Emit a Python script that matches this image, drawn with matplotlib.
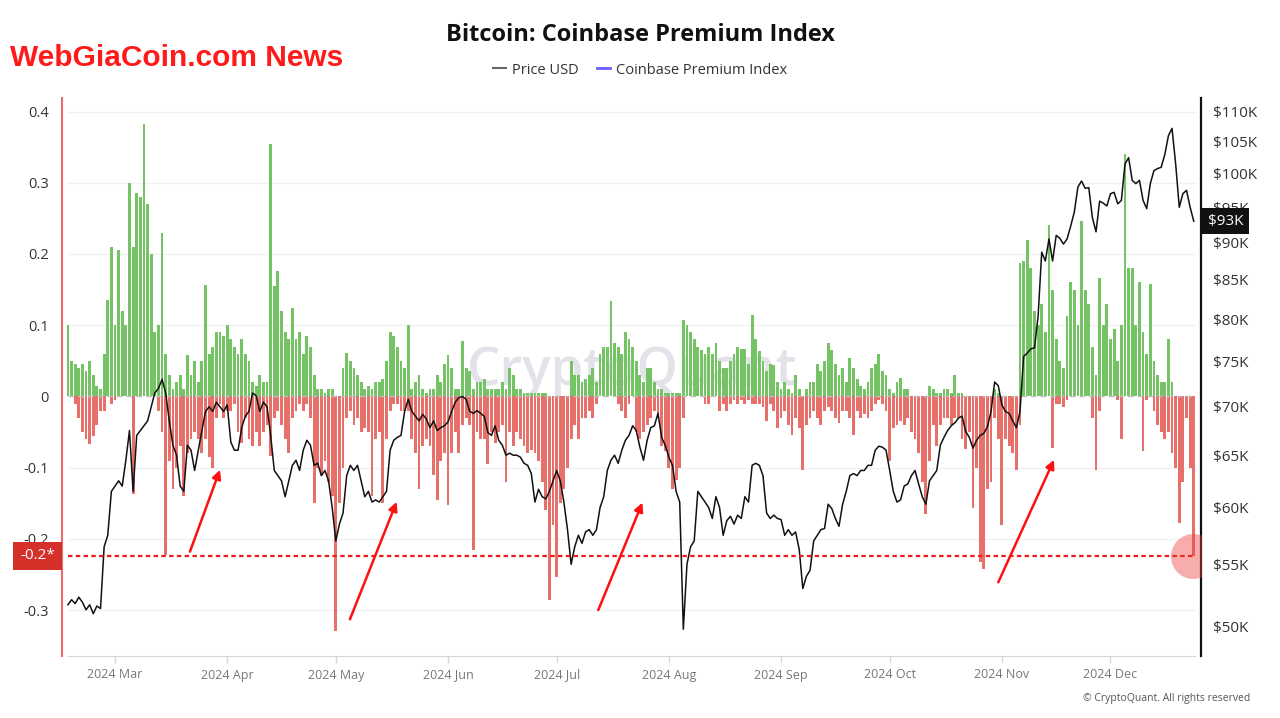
import numpy as np
import pandas as pd
import matplotlib
matplotlib.use('Agg')
import matplotlib.pyplot as plt
import matplotlib.dates as mdates
from matplotlib.lines import Line2D
from matplotlib.ticker import NullLocator

plt.rcParams['font.family'] = ['Open Sans', 'DejaVu Sans']

# ---------------- data (daily) ----------------
start_date = '2024-02-17'

price_usd_k = [
    51.7, 52.1, 51.8, 52.3, 51.9, 51.3, 51.7, 51.0, 51.6, 51.4,
    56.5, 57.5, 61.5, 62.0, 62.5, 62.0, 64.5, 67.5, 61.5, 67.0,
    67.5, 68.0, 68.5, 70.0, 71.5, 72.0, 73.0, 71.5, 68.5, 66.0,
    65.0, 62.0, 61.5, 66.0, 65.5, 63.5, 65.5, 67.5, 69.5, 70.0,
    69.5, 70.5, 70.0, 69.5, 70.2, 66.3, 65.5, 65.5, 67.8, 69.0,
    69.5, 71.5, 71.2, 69.5, 70.5, 70.0, 67.0, 63.5, 63.0, 62.5,
    61.0, 62.5, 64.0, 64.5, 63.5, 65.5, 66.5, 66.0, 64.0, 64.2,
    63.0, 63.5, 62.5, 60.0, 57.0, 58.5, 59.5, 63.0, 64.0, 63.5,
    64.0, 62.5, 61.0, 61.5, 60.5, 60.7, 60.5, 61.0, 61.5, 65.5,
    66.5, 66.8, 67.0, 69.5, 70.8, 69.5, 69.0, 68.5, 69.2, 68.7,
    67.8, 68.5, 67.5, 67.8, 68.0, 68.4, 69.5, 70.5, 71.0, 71.1,
    70.8, 69.5, 69.3, 69.6, 69.3, 69.0, 67.3, 67.0, 68.0, 66.5,
    66.0, 65.0, 65.2, 65.0, 65.0, 64.8, 64.2, 64.0, 63.2, 60.5,
    61.7, 61.0, 60.8, 61.5, 62.5, 63.5, 62.5, 60.5, 58.0, 55.0,
    56.5, 57.5, 56.8, 57.8, 58.0, 57.5, 58.0, 60.0, 61.0, 63.5,
    64.5, 65.0, 64.2, 65.5, 66.5, 67.0, 68.0, 67.5, 65.8, 64.5,
    66.5, 67.8, 68.0, 69.3, 66.8, 66.0, 64.8, 64.0, 61.5, 60.5,
    49.8, 55.0, 56.5, 57.0, 61.5, 61.0, 60.5, 60.0, 59.0, 61.0,
    60.0, 57.5, 58.8, 59.2, 58.5, 59.3, 59.0, 61.0, 60.5, 64.0,
    64.2, 64.0, 63.0, 59.5, 59.0, 59.3, 59.0, 58.9, 57.5, 58.0,
    57.5, 57.8, 56.3, 53.0, 54.0, 54.5, 57.0, 57.5, 58.0, 58.1,
    60.3, 59.9, 59.0, 58.3, 60.3, 61.5, 63.0, 63.2, 63.0, 63.5,
    63.5, 64.0, 64.0, 65.5, 65.9, 65.8, 65.5, 63.5, 61.5, 60.5,
    60.7, 62.0, 62.2, 63.0, 63.5, 62.2, 61.0, 60.3, 62.5, 63.0,
    63.5, 66.0, 66.8, 67.5, 68.0, 68.3, 68.8, 69.0, 67.4, 66.8,
    65.7, 66.5, 67.0, 67.2, 67.9, 69.5, 72.7, 72.3, 70.2, 69.5,
    69.3, 68.5, 67.8, 69.5, 75.6, 76.0, 76.5, 76.6, 80.4, 88.7,
    87.5, 90.5, 87.5, 91.0, 90.6, 89.8, 90.5, 92.3, 94.3, 98.0,
    98.9, 97.8, 97.9, 93.5, 91.5, 95.9, 95.6, 95.2, 97.0, 97.2,
    95.5, 96.0, 101.5, 102.5, 99.0, 98.5, 99.0, 96.0, 94.8, 98.5,
    100.5, 100.8, 101.0, 103.0, 106.0, 107.2, 101.5, 95.0, 97.0, 97.5,
    95.0, 93.0,
]

# daily maximum of the Coinbase Premium Index
premium_high = [
    .10, .05, .045, .04, .045, .035, .05, .03, .015, .01,
    .06, .135, .21, .10, .205, .12, .10, .30, .21, .285,
    .28, .383, .27, .20, .09, .10, .23, .06, .03, .01,
    .02, .03, .01, .058, .03, .05, .02, .05, .157, .06,
    .07, .09, .09, .085, .10, .08, .07, .06, .08, .06,
    .05, .02, .015, .03, .02, .02, .354, .155, .176, .12,
    .09, .08, .124, .08, .09, .06, .085, .07, .03, .01,
    .01, .005, .01, .01, 0, 0, .04, .061, .05, .04,
    .03, .02, .01, .015, .01, .02, .02, .025, .05, .09,
    .085, .07, .05, .04, .10, .01, .02, .03, .01, .005,
    .01, .01, .03, .02, .045, .058, .04, .01, .01, .078,
    .04, .035, .01, .02, .02, .025, .01, .01, .01, .01,
    .02, .01, .04, .03, .01, .01, .005, .005, .005, .005,
    .005, .005, .005, 0, 0, 0, 0, 0, 0, .05,
    .03, .03, .02, .025, .03, .04, .02, .06, .07, .07,
    .134, .075, .07, .06, .09, .08, .07, .05, .03, .02,
    .04, .04, .02, .01, .01, .005, .005, .005, .005, .005,
    .107, .10, .09, .08, .07, .065, .06, .07, .06, .075,
    .05, .04, .04, .05, .06, .07, .066, .066, .045, .115,
    .08, .064, .05, .035, .045, .044, .02, .01, .02, .01,
    .005, .03, .01, 0, .01, .02, .02, .045, .035, .05,
    .075, .065, .045, .03, .04, .02, .054, .04, .025, .015,
    .01, .02, .04, .045, .059, .035, .03, .01, .005, .02,
    .026, .01, .01, 0, 0, 0, 0, 0, .015, .01,
    .005, .005, .01, .01, .005, .03, .005, .005, 0, 0,
    0, 0, 0, 0, 0, 0, .01, .005, 0, 0,
    0, 0, 0, .188, .19, .22, .18, .12, .10, .13,
    .09, .24, .15, .08, .05, .04, .113, .16, .15, .10,
    .246, .15, .13, .07, .03, .166, .10, .13, .08, .094,
    .05, .10, .34, .18, .18, .10, .16, .09, .06, .158,
    .05, .03, .02, .02, .081, .02, 0, 0, 0, 0,
    0, 0,
]

# daily minimum of the Coinbase Premium Index
premium_low = [
    0, 0, -.01, -.03, -.05, -.06, -.067, -.055, -.04, -.02,
    -.02, 0, -.01, -.005, 0, 0, 0, 0, -.137, 0,
    0, 0, 0, 0, 0, -.02, -.05, -.222, -.09, -.13,
    -.10, -.07, -.14, -.08, -.06, -.05, -.06, -.08, -.06, -.085,
    -.10, -.03, -.01, -.03, -.02, -.02, -.01, -.05, -.065, -.03,
    -.06, -.07, -.05, -.07, -.05, -.04, -.084, -.03, -.02, -.04,
    -.06, -.08, -.03, -.02, -.01, -.02, -.01, -.03, -.15, -.10,
    -.11, -.09, -.12, -.14, -.33, -.15, -.10, -.03, -.02, -.04,
    -.03, -.05, -.045, -.05, -.14, -.06, -.05, -.15, -.06, -.02,
    -.01, -.01, -.02, -.02, -.02, -.06, -.08, -.13, -.07, -.06,
    -.07, -.11, -.145, -.09, -.08, -.152, -.08, -.05, -.08, -.04,
    -.03, -.04, -.215, -.05, -.06, -.06, -.095, -.05, -.065, -.05,
    -.04, -.12, -.05, -.07, -.05, -.06, -.07, -.08, -.075, -.08,
    -.09, -.12, -.16, -.286, -.18, -.254, -.15, -.13, -.10, -.06,
    -.04, -.06, -.03, -.03, -.02, -.03, -.01, 0, 0, 0,
    0, 0, -.01, -.02, -.03, -.01, 0, -.05, -.06, -.05,
    -.04, -.03, -.02, -.03, -.07, -.077, -.10, -.13, -.117, -.10,
    -.03, 0, 0, 0, 0, 0, -.01, -.01, 0, 0,
    -.02, -.01, -.02, -.01, -.005, -.01, -.005, -.01, -.005, -.01,
    -.01, -.01, -.015, -.034, -.01, -.02, -.045, -.03, -.02, -.04,
    -.054, -.03, -.045, -.104, -.04, -.03, -.02, -.03, -.04, -.02,
    -.015, -.02, -.03, -.037, -.02, -.02, -.03, -.054, -.02, -.03,
    -.025, -.03, -.02, -.01, -.005, -.01, -.02, -.09, -.045, -.04,
    -.035, -.04, -.03, -.05, -.06, -.08, -.12, -.165, -.09, -.04,
    -.07, -.04, -.03, -.03, -.04, -.03, -.03, -.06, -.074, -.05,
    -.157, -.10, -.232, -.242, -.13, -.12, -.03, -.06, -.18, -.06,
    -.07, -.08, -.104, -.04, 0, 0, 0, 0, 0, 0,
    0, 0, -.072, -.01, -.01, -.015, -.005, 0, 0, 0,
    0, 0, 0, -.03, -.104, -.02, 0, 0, 0, 0,
    -.005, -.06, 0, 0, 0, 0, 0, -.077, -.005, 0,
    -.02, -.04, -.05, -.06, -.05, -.08, -.10, -.178, -.12, -.03,
    -.10, -.224,
]

assert len(price_usd_k) == len(premium_high) == len(premium_low), (
    len(price_usd_k), len(premium_high), len(premium_low))

left_ticks = [0.4, 0.3, 0.2, 0.1, 0.0, -0.1, -0.2, -0.3]
left_tick_labels = ['0.4', '0.3', '0.2', '0.1', '0', '-0.1', '-0.2', '-0.3']
price_ticks_k = [50, 55, 60, 65, 70, 75, 80, 85, 90, 95, 100, 105, 110]
month_starts = pd.date_range('2024-03-01', '2024-12-01', freq='MS')
month_labels = [d.strftime('%Y %b') for d in month_starts]
threshold = -0.224
last_price_label = '$93K'
last_price_k = 93.0

# arrows: (start_day, end_day), (start_value, end_value); day offset from start_date
arrow_days = [(33.7, 42.0), (77.9, 90.8), (146.5, 158.7), (257.0, 272.4)]
arrow_vals = [(-0.218, -0.103), (-0.313, -0.148), (-0.300, -0.149), (-0.261, -0.089)]
circle_day = 310.8

GREEN = '#74c365'
RED = '#e8706b'

# ---------------- figure ----------------
W, H = 1280, 718
fig = plt.figure(figsize=(W / 100, H / 100), dpi=100)
ax = fig.add_axes([62 / W, 62 / H, 1139 / W, 558 / H])

dates = pd.date_range(start_date, periods=len(price_usd_k), freq='D')
x = mdates.date2num(dates.values)
x0 = x[0]
x_end = x[-1] + 0.3

hi = np.array(premium_high)
lo = np.array(premium_low)
price = np.array(price_usd_k)

# grid lines
ax.hlines([t for t in left_ticks if t != 0], x0, x_end, color='#f1f1f3', lw=1, zorder=0)

# watermark
ax.text(0.5004, 0.509, 'CryptoQuant', transform=ax.transAxes, ha='center', va='center',
        fontsize=38, color='#e2e2e8', fontweight='semibold', zorder=0.5)

# premium bars
ax.bar(x, np.where(hi > 0, hi, 0), width=0.78, color=GREEN, linewidth=0, zorder=2)
ax.bar(x, np.where(lo < 0, lo, 0), width=0.78, color=RED, linewidth=0, zorder=2)

# zero dashed line
ax.hlines(0, x0, x_end, color='#bdbdbd', lw=1, linestyles=(0, (4, 3)), zorder=2.5)

ax.set_xlim(x0 - 1.64, x0 + 313.0)
ax.set_ylim(-0.3645, 0.419)

ax.set_yticks(left_ticks)
ax.set_yticklabels(left_tick_labels)
ax.tick_params(axis='y', length=0, pad=9.5, labelsize=10.5, labelcolor='#333333')

ax.set_xticks(mdates.date2num(month_starts.values))
ax.set_xticklabels(month_labels)
ax.tick_params(axis='x', length=5, width=1, color='#d3d6de', pad=4, labelsize=9,
               labelcolor='#777777')

for s in ['top', 'right']:
    ax.spines[s].set_visible(False)
ax.spines['left'].set_color('#e86c6c')
ax.spines['left'].set_linewidth(1.5)
ax.spines['bottom'].set_color('#d3d6de')
ax.spines['bottom'].set_bounds(x0, x_end)

# price axis
ax2 = ax.twinx()
ax2.set_yscale('log')
ax2.plot(x, price, color='#111111', lw=1.1, zorder=3)
ax2.set_ylim(47.8, 112.3)
ax2.set_yticks(price_ticks_k)
ax2.set_yticklabels([f'${v}K' for v in price_ticks_k])
ax2.yaxis.set_minor_locator(NullLocator())
ax2.tick_params(axis='y', length=0, pad=8.5, labelsize=11, labelcolor='#333333')
for s in ['top', 'left', 'bottom']:
    ax2.spines[s].set_visible(False)
ax2.spines['right'].set_color('#111111')
ax2.spines['right'].set_linewidth(1.6)

# threshold dotted line
ax2.plot([x0, x_end], [threshold, threshold], transform=ax.transData, color='#ee1c1c',
         lw=1.6, linestyle=(0, (2, 1.5)), zorder=4)

# arrows
for (d0, d1), (v0, v1) in zip(arrow_days, arrow_vals):
    ax2.annotate('', xy=(x0 + d1, v1), xytext=(x0 + d0, v0),
                 xycoords=ax.transData, textcoords=ax.transData,
                 arrowprops=dict(arrowstyle='-|>', color='#ff1010', lw=1.8,
                                 mutation_scale=13, shrinkA=0, shrinkB=0), zorder=5)

# highlight circle
ax2.scatter([x0 + circle_day], [threshold], s=1050, color='#f03c3c', alpha=0.42,
            linewidths=0, transform=ax.transData, zorder=6)

# threshold label on left axis
ax2.annotate('-0.2*', xy=(0, threshold), xycoords=ax.get_yaxis_transform(),
             xytext=(-5.0, 0), textcoords='offset points', ha='right', va='center',
             fontsize=11, color='white',
             bbox=dict(boxstyle='square,pad=0.45', fc='#d6302b', ec='none'), zorder=7,
             annotation_clip=False)

# last price label on right axis
ax2.annotate(last_price_label, xy=(1, last_price_k), xycoords=ax2.get_yaxis_transform(),
             xytext=(5.0, 0), textcoords='offset points', ha='left', va='center',
             fontsize=11, color='white',
             bbox=dict(boxstyle='square,pad=0.38', fc='#111111', ec='none'), zorder=7,
             annotation_clip=False)

# ---------------- texts ----------------
fig.text(0.5, 1 - 35 / H, 'Bitcoin: Coinbase Premium Index', ha='center', va='center',
         fontsize=17, fontweight='bold', color='#111111')

handles = [Line2D([0], [0], color='#666666', lw=1.5),
           Line2D([0], [0], color='#6a5cff', lw=2)]
fig.legend(handles, ['Price USD', 'Coinbase Premium Index'], loc='center',
           bbox_to_anchor=(0.5, 1 - 70 / H), ncol=2, frameon=False, fontsize=10.5,
           handlelength=0.9, handletextpad=0.4, columnspacing=1.3, labelcolor='#333333')

fig.text(10 / W, 1 - 58 / H, 'WebGiaCoin.com News', ha='left', va='center',
         fontsize=21.5, fontweight='bold', color='#ff1a1a',
         family=['Liberation Sans', 'DejaVu Sans'])

fig.text(1250 / W, 1 - 699 / H, '\u00a9 CryptoQuant. All rights reserved', ha='right',
         va='center', fontsize=7.5, color='#555555')

fig.savefig('out.png', dpi=100)
